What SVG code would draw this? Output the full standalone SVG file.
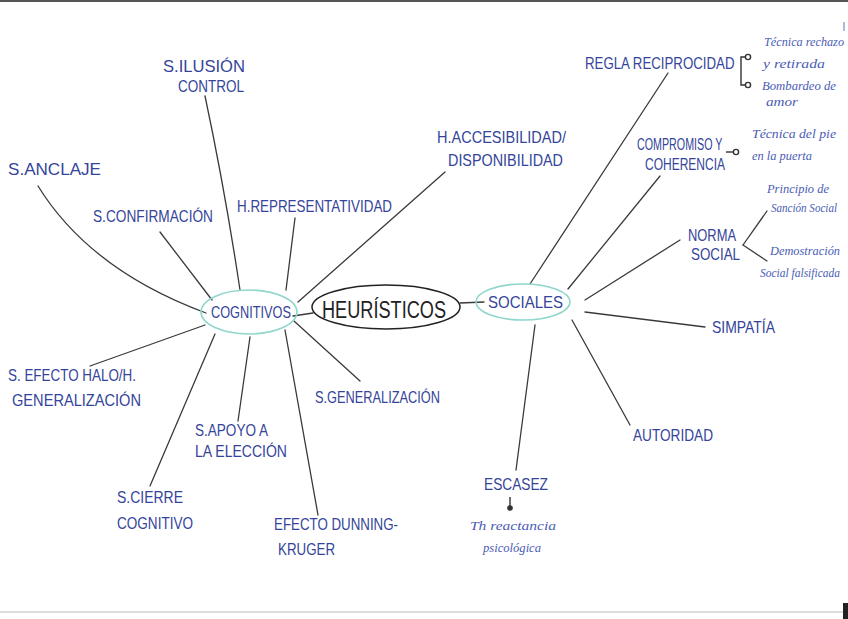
<svg xmlns="http://www.w3.org/2000/svg" width="848" height="619" viewBox="0 0 848 619">
<style>
.t{font-family:"Liberation Sans",Arial,sans-serif;font-size:17px;fill:#34449a}
.s{font-family:"Liberation Serif","Times New Roman",serif;font-style:italic;font-size:12px;fill:#4a5cb5}
.h{font-family:"Liberation Sans",Arial,sans-serif;font-size:23px;fill:#222}
.c{fill:none;stroke:#3a3a3a;stroke-width:1.3;stroke-linecap:round}
.tl{fill:none;stroke:#8fd6cc;stroke-width:1.6}
.bk{fill:none;stroke:#333;stroke-width:1.4}
</style>
<rect width="848" height="619" fill="#fff"/>
<line x1="0" y1="1" x2="848" y2="1" stroke="#555" stroke-width="2"/>
<line x1="0" y1="612" x2="843" y2="612" stroke="#bbb" stroke-width="1"/>
<rect x="843" y="603" width="5" height="16" fill="#222"/>
<line x1="844" y1="22" x2="844" y2="31" stroke="#6070b0" stroke-width="1"/>

<g id="connectors">
  <line class="c" x1="293" y1="316" x2="313" y2="313"/>
  <line class="c" x1="460" y1="303" x2="484" y2="302"/>
  <path class="c" d="M205,96 Q225,190 240,290"/>
  <path class="c" d="M38,186 Q90,270 206,313"/>
  <line class="c" x1="160" y1="232" x2="212" y2="300"/>
  <line class="c" x1="295" y1="218" x2="286" y2="290"/>
  <line class="c" x1="445" y1="172" x2="298" y2="302"/>
  <line class="c" x1="90" y1="366" x2="205" y2="325"/>
  <line class="c" x1="150" y1="486" x2="215" y2="334"/>
  <line class="c" x1="238" y1="421" x2="250" y2="337"/>
  <line class="c" x1="318" y1="515" x2="285" y2="330"/>
  <line class="c" x1="360" y1="381" x2="294" y2="321"/>
  <line class="c" x1="668" y1="73" x2="530" y2="284"/>
  <line class="c" x1="660" y1="176" x2="568" y2="289"/>
  <line class="c" x1="680" y1="240" x2="585" y2="300"/>
  <line class="c" x1="585" y1="312" x2="705" y2="327"/>
  <line class="c" x1="572" y1="320" x2="630" y2="425"/>
  <line class="c" x1="535" y1="325" x2="516" y2="470"/>
  <path class="bk" d="M745,57 H741 V85 H745"/>
  <circle class="bk" cx="748" cy="57" r="2.6"/>
  <circle class="bk" cx="748" cy="85" r="2.6"/>
  <line class="bk" x1="726" y1="152" x2="733" y2="152"/>
  <circle class="bk" cx="736" cy="152" r="2.6"/>
  <line class="c" x1="743" y1="245" x2="767" y2="211"/>
  <line class="c" x1="743" y1="245" x2="767" y2="261"/>
  <line class="bk" x1="510" y1="497" x2="510" y2="507"/>
  <circle cx="510" cy="508" r="2.8" fill="#333"/>
</g>

<g id="heuristicos">
  <ellipse cx="386" cy="307" rx="74" ry="22" fill="none" stroke="#222" stroke-width="1.5"/>
  <text class="h" x="322" y="318" textLength="124" lengthAdjust="spacingAndGlyphs">HEURÍSTICOS</text>
</g>
<g id="cognitivos">
  <ellipse class="tl" cx="249" cy="312" rx="48" ry="22"/>
  <text class="t" x="211" y="318" textLength="80" lengthAdjust="spacingAndGlyphs">COGNITIVOS</text>
</g>
<g id="sociales">
  <ellipse class="tl" cx="523" cy="302" rx="47" ry="18"/>
  <text class="t" x="488" y="308" textLength="75" lengthAdjust="spacingAndGlyphs">SOCIALES</text>
</g>

<g id="ilusion"><text class="t" x="163" y="72" textLength="82" lengthAdjust="spacingAndGlyphs">S.ILUSIÓN</text><text class="t" x="178" y="92" textLength="66" lengthAdjust="spacingAndGlyphs">CONTROL</text></g>
<g id="anclaje"><text class="t" x="8" y="175" textLength="93" lengthAdjust="spacingAndGlyphs">S.ANCLAJE</text></g>
<g id="confirmacion"><text class="t" x="93" y="222" textLength="120" lengthAdjust="spacingAndGlyphs">S.CONFIRMACIÓN</text></g>
<g id="representatividad"><text class="t" x="237" y="212" textLength="155" lengthAdjust="spacingAndGlyphs">H.REPRESENTATIVIDAD</text></g>
<g id="accesibilidad"><text class="t" x="437" y="143" textLength="129" lengthAdjust="spacingAndGlyphs">H.ACCESIBILIDAD/</text><text class="t" x="448" y="166" textLength="115" lengthAdjust="spacingAndGlyphs">DISPONIBILIDAD</text></g>
<g id="halo"><text class="t" x="8" y="381" textLength="128" lengthAdjust="spacingAndGlyphs">S. EFECTO HALO/H.</text><text class="t" x="12" y="406" textLength="129" lengthAdjust="spacingAndGlyphs">GENERALIZACIÓN</text></g>
<g id="apoyo"><text class="t" x="195" y="436" textLength="73" lengthAdjust="spacingAndGlyphs">S.APOYO A</text><text class="t" x="195" y="457" textLength="92" lengthAdjust="spacingAndGlyphs">LA ELECCIÓN</text></g>
<g id="cierre"><text class="t" x="117" y="503" textLength="66" lengthAdjust="spacingAndGlyphs">S.CIERRE</text><text class="t" x="117" y="529" textLength="76" lengthAdjust="spacingAndGlyphs">COGNITIVO</text></g>
<g id="dunning"><text class="t" x="274" y="530" textLength="124" lengthAdjust="spacingAndGlyphs">EFECTO DUNNING-</text><text class="t" x="278" y="555" textLength="57" lengthAdjust="spacingAndGlyphs">KRUGER</text></g>
<g id="generalizacion"><text class="t" x="315" y="403" textLength="125" lengthAdjust="spacingAndGlyphs">S.GENERALIZACIÓN</text></g>

<g id="reciprocidad"><text class="t" transform="translate(585,69) scale(0.78,1)">REGLA RECIPROCIDAD</text></g>
<g id="rechazo"><text class="s" x="764" y="46" textLength="80" lengthAdjust="spacingAndGlyphs">Técnica rechazo</text><text class="s" x="763" y="68" textLength="62" lengthAdjust="spacingAndGlyphs">y retirada</text></g>
<g id="bombardeo"><text class="s" x="762" y="90" textLength="74" lengthAdjust="spacingAndGlyphs">Bombardeo de</text><text class="s" x="766" y="106" textLength="32" lengthAdjust="spacingAndGlyphs">amor</text></g>
<g id="compromiso"><text class="t" transform="translate(637,150) scale(0.63,1)">COMPROMISO Y</text><text class="t" x="645" y="170" textLength="80" lengthAdjust="spacingAndGlyphs">COHERENCIA</text></g>
<g id="pie"><text class="s" x="752" y="138" textLength="84" lengthAdjust="spacingAndGlyphs">Técnica del pie</text><text class="s" x="752" y="160" textLength="60" lengthAdjust="spacingAndGlyphs">en la puerta</text></g>
<g id="norma"><text class="t" x="688" y="241" textLength="48" lengthAdjust="spacingAndGlyphs">NORMA</text><text class="t" x="691" y="260" textLength="49" lengthAdjust="spacingAndGlyphs">SOCIAL</text></g>
<g id="sancion"><text class="s" x="767" y="193" textLength="62" lengthAdjust="spacingAndGlyphs">Principio de</text><text class="s" x="771" y="212" textLength="66" lengthAdjust="spacingAndGlyphs">Sanción Social</text></g>
<g id="demostracion"><text class="s" x="770" y="255" textLength="70" lengthAdjust="spacingAndGlyphs">Demostración</text><text class="s" x="760" y="277" textLength="80" lengthAdjust="spacingAndGlyphs">Social falsificada</text></g>
<g id="simpatia"><text class="t" x="712" y="333" textLength="63" lengthAdjust="spacingAndGlyphs">SIMPATÍA</text></g>
<g id="autoridad"><text class="t" x="633" y="441" textLength="80" lengthAdjust="spacingAndGlyphs">AUTORIDAD</text></g>
<g id="escasez"><text class="t" x="484" y="490" textLength="64" lengthAdjust="spacingAndGlyphs">ESCASEZ</text></g>
<g id="reactancia"><text class="s" x="470" y="530" textLength="86" lengthAdjust="spacingAndGlyphs">Th reactancia</text><text class="s" x="483" y="552" textLength="58" lengthAdjust="spacingAndGlyphs">psicológica</text></g>
</svg>
